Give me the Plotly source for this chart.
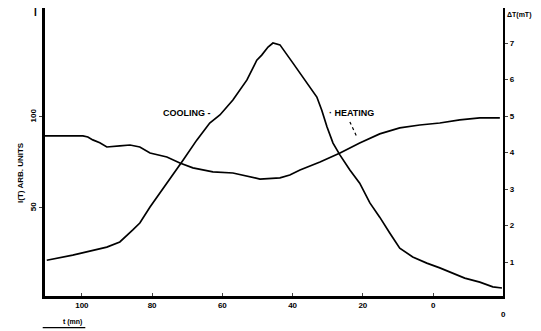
import plotly.graph_objects as go

# time axis (mn), decreasing to the right
t_dt = [110.0, 102.6, 92.9, 89.2, 85.5, 83.5, 80.6, 77.8, 74.4, 71.2, 67.3, 63.6, 60.7, 57.0,
        53.0, 50.2, 48.8, 47.0, 45.6, 43.6, 39.9, 37.1, 33.1, 31.7, 30.2, 28.5, 26.5, 23.7,
        20.9, 18.0, 15.2, 12.3, 9.5, 5.8, 1.8, -1.9, -5.6, -9.0, -13.3, -17.0, -19.6]
dT = [1.05, 1.19, 1.41, 1.55, 1.88, 2.07, 2.51, 2.89, 3.33, 3.79, 4.34, 4.81, 5.03, 5.44,
      5.99, 6.53, 6.67, 6.89, 7.00, 6.95, 6.45, 6.07, 5.52, 5.16, 4.70, 4.26, 3.93, 3.52,
      3.16, 2.62, 2.23, 1.79, 1.38, 1.14, 0.97, 0.84, 0.70, 0.56, 0.45, 0.32, 0.29]

t_I = [110.5, 99.7, 98.3, 96.9, 94.9, 92.9, 89.2, 86.3, 83.5, 80.6, 75.8, 72.1, 68.4, 62.7,
       57.0, 53.0, 49.3, 43.6, 40.8, 37.9, 32.2, 26.5, 20.9, 15.2, 9.5, 3.8, -1.9, -7.6,
       -13.3, -19.0]
I_T = [89.6, 89.6, 89.0, 87.4, 85.8, 83.5, 84.1, 84.6, 83.5, 80.2, 78.0, 74.7, 72.0, 69.8,
       69.2, 67.6, 65.9, 66.5, 68.1, 70.9, 75.3, 80.2, 85.7, 90.7, 94.0, 95.6, 96.7, 98.4,
       99.5, 99.5]

x_ticks = [100, 80, 60, 40, 20, 0]
left_ticks = [50, 100]
right_ticks = [1, 2, 3, 4, 5, 6, 7]

FONT = "Liberation Sans"
fig = go.Figure()
fig.add_trace(go.Scatter(x=t_I, y=I_T, mode="lines", line=dict(color="black", width=1.7),
                         yaxis="y", showlegend=False))
fig.add_trace(go.Scatter(x=t_dt, y=dT, mode="lines", line=dict(color="black", width=1.7),
                         yaxis="y2", showlegend=False))

# page body has an 8px margin: figure is shrunk so the plot lands where the reference has it
fig.update_layout(
    width=533, height=323,
    margin=dict(l=37, r=38, t=0, b=35),
    paper_bgcolor="white", plot_bgcolor="white",
    font=dict(family=FONT, size=8, color="black", weight="bold"),
    xaxis=dict(range=[110.5, -19.9], tickvals=x_ticks, ticks="inside", ticklen=3,
               showgrid=False, zeroline=False, showline=True, linecolor="black", linewidth=2.5,
               tickfont=dict(size=8, weight="bold")),
    yaxis=dict(range=[1.6, 159.9], tickvals=left_ticks, tickangle=-90, ticks="outside", ticklen=3,
               showgrid=False, zeroline=False, showline=True, linecolor="black", linewidth=2.5,
               tickfont=dict(size=8, weight="bold")),
    yaxis2=dict(range=[0.07, 7.96], overlaying="y", side="right", tickvals=right_ticks,
                ticks="outside", ticklen=3, showgrid=False, zeroline=False, showline=True,
                linecolor="black", linewidth=2.2, tickfont=dict(size=8, weight="bold")),
)

ann = [
    dict(x=70.1, y=102.2, xref="x", yref="y", text="COOLING -", showarrow=False,
         xanchor="center", font=dict(size=9)),
    dict(x=23.1, y=102.2, xref="x", yref="y", text="· HEATING", showarrow=False,
         xanchor="center", font=dict(size=9)),
    dict(x=-0.055, y=0.43, xref="paper", yref="paper", text="I(T) ARB. UNITS", textangle=-90,
         showarrow=False, xanchor="center", yanchor="middle", font=dict(size=8)),
    dict(x=-0.02, y=0.985, xref="paper", yref="paper", text="I", showarrow=False,
         font=dict(size=10), xanchor="center", yanchor="middle"),
    dict(x=1.004, y=0.975, xref="paper", yref="paper", text="ΔT(mT)", showarrow=False,
         xanchor="left", yanchor="middle", font=dict(size=7)),
    dict(x=1.0, y=-0.04, xref="paper", yref="paper", text="0", showarrow=False,
         xanchor="center", yanchor="top", font=dict(size=8)),
    dict(x=0.06, y=-0.09, xref="paper", yref="paper", text="t (mn)", showarrow=False,
         xanchor="center", yanchor="middle", font=dict(size=7)),
]
fig.update_layout(annotations=ann)
fig.add_shape(type="line", xref="x", yref="y", x0=23.7, y0=97.3, x1=21.7, y1=89.0,
              line=dict(color="black", width=1.2, dash="dot"))
fig.add_shape(type="line", xref="paper", yref="paper", x0=-0.005, y0=-0.11, x1=0.088, y1=-0.11,
              line=dict(color="black", width=1.2))

fig.write_html("out.html")
